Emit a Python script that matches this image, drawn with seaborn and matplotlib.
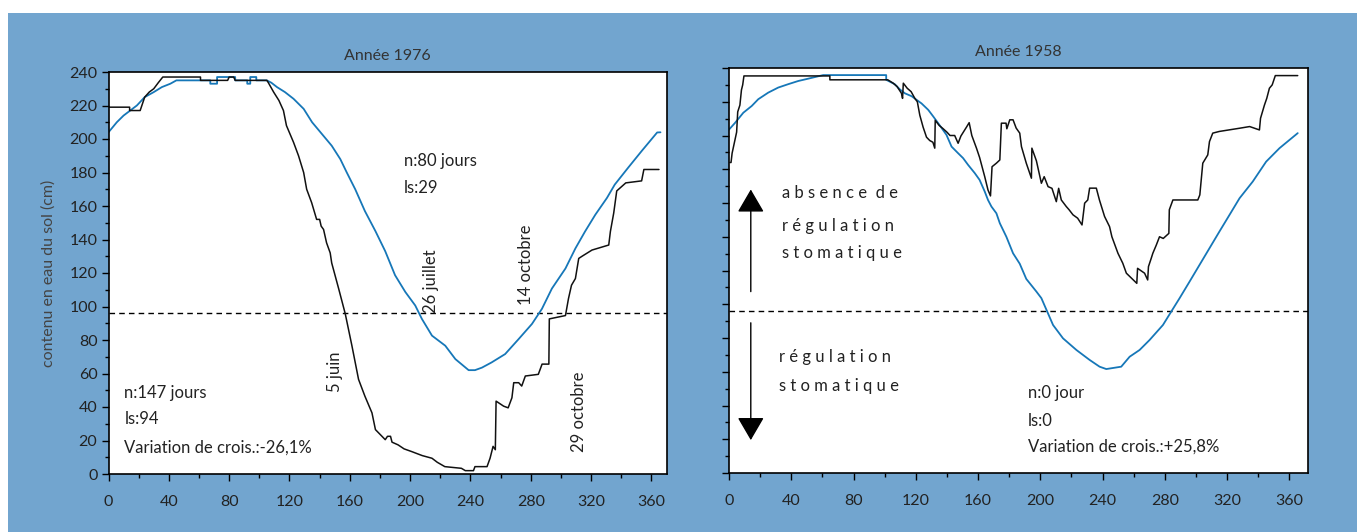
import numpy as np
import matplotlib
matplotlib.use('Agg')
import matplotlib.pyplot as plt
from matplotlib.patches import Rectangle
from matplotlib.ticker import MultipleLocator
import seaborn as sns

sns.set_theme(style='white')
plt.rcParams['font.family'] = ['Lato', 'DejaVu Sans']

# seuil de regulation stomatique (cm)
seuil = 96

# Annee 1976 - contenu en eau reel (noir)
j76_reel = [0, 14, 14, 21, 24, 27, 30, 33, 36, 61, 61, 79, 80, 83, 84, 105, 106, 109.5, 113, 116,
            118, 122.7, 126, 129.4, 131.4, 134.7, 138, 140, 141, 142.6, 144.6, 147, 148, 152.6, 157, 161.4,
            165.8, 170, 174.7, 177, 183.5, 185, 187, 188, 192, 196, 201, 208, 214.5, 218, 223, 234,
            236.6, 242, 243, 251, 253, 255, 256.5, 257, 262, 265, 267.5, 268.7, 272, 274, 276.4, 285,
            287.5, 292, 292.3, 303, 305, 307, 309.6, 311.8, 314, 320.6, 331.7, 332.8, 335, 336, 337,
            343, 353.5, 355, 365]
v76_reel = [219, 219, 217, 217, 225, 228, 230, 233.6, 237, 237, 235, 235, 237, 237, 235, 235, 233.6, 228, 223, 217,
            208, 198, 190, 180, 170, 162, 152, 152, 148, 146, 138, 132, 126, 110.7, 95.6, 76.6,
            56.5, 46.5, 36.5, 26.5, 20.5, 22.5, 22.5, 19, 17.4, 15, 13.4, 11, 9.4, 7, 4.4, 3.4,
            2, 2, 4.4, 4.4, 9.4, 16.5, 14.5, 43.5, 40.5, 39.5, 45.5, 54.5, 54.5, 52.5, 58.5, 59.5,
            65.6, 65.6, 92.6, 94.6, 104.7, 112.7, 116.7, 128.7, 130, 133.7, 136.7, 144.8, 155.8, 162.4, 169,
            173.8, 175, 181.8, 181.8]

# Annee 1976 - sans regulation (bleu)
j76_ref = [0, 5.5, 10, 14.4, 18.8, 24, 30, 35.4, 41, 45, 67.5, 67.5, 72, 72, 84, 84, 92, 92, 94, 94, 98, 98,
           105, 108, 111.7, 117, 122.7, 129.4, 135, 141.5, 148, 153.7, 158, 163.6, 170, 177, 183.5, 190,
           196.8, 203.4, 207.8, 214.5, 223.3, 230, 238.8, 243, 247.6, 254, 263, 272, 280.8, 287.4, 294,
           303, 309.6, 316, 322.8, 330.5, 335.7, 344.6, 353.6, 363.8, 366]
v76_ref = [204, 210, 214, 217, 220, 225, 228, 231, 233, 235, 235, 233, 233, 237, 237, 235, 235, 233, 233, 237, 237, 235,
           235, 233.6, 231, 228, 224, 218, 210, 203, 196, 188, 180, 170, 157, 145, 133, 118.7,
           108.7, 100.6, 92.6, 82.6, 76.6, 68.6, 62, 62, 63.5, 66.6, 71.6, 80.6, 89.6, 98.6, 110.7,
           122.7, 134.7, 144.8, 154.8, 164.8, 172.8, 182.9, 192.9, 203.9, 204]

# Annee 1958 - contenu en eau reel (noir)
j58_reel = [0.6, 1.3, 2, 4.9, 5.6, 7, 8, 8.8, 9.6, 64.8, 64.8, 102, 105.5, 108, 110.8, 111.5, 112, 114.5, 117,
            119.4, 121, 122.6, 124.7, 126.9, 129, 131, 132.2, 132.5, 135, 137.6, 140, 142, 145, 147.2, 149,
            152.6, 154.3, 156, 159, 161, 164.3, 166.4, 168, 169, 171.8, 174, 175, 178, 178.5, 180.4, 182.5,
            184.5, 186.8, 187.9, 191, 194.3, 194.6, 197.5, 200.7, 202.5, 205, 207.5, 210.3, 211.8, 213.5,
            216.7, 218.5, 221, 224, 226.8, 228.5, 230.5, 231.7, 236, 238, 241.3, 244.5, 246, 249.9, 253,
            255.3, 262, 262.5, 264.5, 267, 269, 269.5, 271.3, 272.3, 274.5, 276.6, 279, 282.6, 282.9, 285.2,
            301.2, 302.5, 304.4, 307.6, 308.7, 310.8, 315, 328, 334.5, 340.8, 341.5, 344, 345.5, 347.2,
            349, 351, 365.4]
v58_reel = [184, 184, 189.5, 202, 214, 218, 227, 230, 235.3, 235.3, 233, 233, 231, 229, 225, 222, 231, 228, 226,
            222, 220, 212, 205, 199, 197, 196, 192.5, 209, 206, 204, 202, 200, 200, 195.4, 199.7,
            205, 207.6, 200, 192.5, 187, 175.6, 167.7, 164.2, 181.5, 183.6, 185.5, 207.3, 207.3, 204, 209.3, 209.3,
            204.4, 201.4, 193.4, 183.6, 174.7, 192.5, 185, 171.7, 175.6, 169.7, 168.7, 160.8, 168.7, 161.8,
            157.9, 156, 153, 151, 147, 159.9, 161.8, 168.8, 168.8, 161.8, 152, 146, 140, 130.2, 124.3,
            118.4, 112.4, 121.3, 120, 118.4, 114.4, 122.3, 127.3, 130.2, 135, 140, 139, 142, 156, 161.8,
            161.8, 164.8, 183.6, 188.5, 196.4, 201.4, 202.4, 204.3, 205.3, 203.3, 210.2, 218, 222, 228,
            230, 235.5, 235.5]

# Annee 1958 - sans regulation (bleu)
j58_ref = [0, 3.9, 9.2, 14.6, 18.8, 25.2, 31.6, 38, 44.5, 51, 60.5, 101, 101, 106.5, 109.8, 113, 117.3, 123.7,
           128, 131.2, 135.4, 139.7, 143, 147.2, 150.4, 153.6, 157.9, 161, 164.3, 166.4, 168.6, 171.8, 174,
           178.2, 182.5, 186.8, 191, 197.5, 200.7, 204, 208.2, 214.6, 223.2, 231.7, 238.1, 242.4, 252,
           257.4, 263.8, 270.2, 278.8, 284.1, 289.5, 295.9, 302.3, 308.7, 315.1, 321.6, 328, 336.5, 345.1,
           353.7, 365.4]
v58_ref = [203.5, 207.5, 213.5, 217.5, 221.5, 225.4, 228.4, 230.4, 232.3, 233.7, 235.8, 235.8, 233, 230.4, 227.3, 225, 223.3, 219,
           215.2, 211.3, 206, 200.4, 193.4, 189.5, 186.6, 182.6, 177.7, 173.7, 166.8, 161.8, 157.9, 153.9, 148,
           140, 130.2, 124, 115, 107.5, 103.6, 96.6, 87.7, 79.8, 72.9, 67, 63, 61.6, 63,
           68.9, 72.9, 78.8, 87.7, 95.6, 103.6, 113.4, 123.3, 133.2, 143.1, 153, 162.8, 172.7, 184.5,
           192.5, 201.4]

fond = '#72a5cf'
bleu = '#1677b8'
texte = '#222222'

fig = plt.figure(figsize=(13.67, 5.32), dpi=100)
fig.patches.append(Rectangle((8 / 1367, 0), 1349 / 1367, 519 / 532, transform=fig.transFigure,
                             facecolor=fond, edgecolor='none', zorder=-10))

ax1 = fig.add_axes([108.5 / 1367, 1 - 474 / 532, 558 / 1367, 402 / 532])
ax2 = fig.add_axes([729 / 1367, 1 - 473 / 532, 579 / 1367, 405 / 532])

for ax, xmax in ((ax1, 370), (ax2, 372)):
    ax.set_facecolor('white')
    ax.set_xlim(0, xmax)
    ax.set_ylim(0, 240)
    ax.xaxis.set_major_locator(MultipleLocator(40))
    ax.xaxis.set_minor_locator(MultipleLocator(20))
    ax.yaxis.set_major_locator(MultipleLocator(20))
    ax.yaxis.set_minor_locator(MultipleLocator(10))
    ax.tick_params(which='both', direction='out', bottom=True, left=True, top=False, right=False,
                   colors='black', labelcolor=texte, labelsize=11.5, width=1)
    ax.tick_params(which='major', length=5, pad=10)
    ax.tick_params(which='minor', length=3)
    ax.tick_params(axis='y', which='major', pad=3)
    for s in ax.spines.values():
        s.set_color('black')
        s.set_linewidth(1.2)
    ax.axhline(seuil, color='black', lw=1, ls=(0, (4, 3)), zorder=1)

ax2.tick_params(axis='y', labelleft=False)

sns.lineplot(x=j76_ref, y=v76_ref, ax=ax1, color=bleu, lw=1.3, estimator=None, sort=False)
sns.lineplot(x=j76_reel, y=v76_reel, ax=ax1, color='#111111', lw=1.1, estimator=None, sort=False)
sns.lineplot(x=j58_ref, y=v58_ref, ax=ax2, color=bleu, lw=1.3, estimator=None, sort=False)
sns.lineplot(x=j58_reel, y=v58_reel, ax=ax2, color='#111111', lw=1.1, estimator=None, sort=False)

ax1.set_title('Année 1976', fontsize=11.5, color='#333333', pad=9)
ax2.set_title('Année 1958', fontsize=11.5, color='#333333', pad=9)
ax1.set_ylabel('contenu en eau du sol (cm)', fontsize=11.5, color='#444444', labelpad=10)
ax1.set_xlabel('')
ax2.set_xlabel('')
ax2.set_ylabel('')

# annotations 1976
fs = 12
ax1.text(196, 187, 'n:80 jours', fontsize=fs, color=texte, va='center')
ax1.text(196, 171, 'ls:29', fontsize=fs, color=texte, va='center')
ax1.text(10.5, 48.5, 'n:147 jours', fontsize=fs, color=texte, va='center')
ax1.text(10.5, 33, 'ls:94', fontsize=fs, color=texte, va='center')
ax1.text(10.5, 15.5, 'Variation de crois.:-26,1%', fontsize=fs, color=texte, va='center')
ax1.text(214, 96, '26 juillet', rotation=90, fontsize=fs, color=texte, ha='center', va='bottom')
ax1.text(277, 101, '14 octobre', rotation=90, fontsize=fs, color=texte, ha='center', va='bottom')
ax1.text(150.5, 49, '5 juin', rotation=90, fontsize=fs, color=texte, ha='center', va='bottom')
ax1.text(312, 13, '29 octobre', rotation=90, fontsize=fs, color=texte, ha='center', va='bottom')

# annotations 1958
ax2.text(192, 47.5, 'n:0 jour', fontsize=fs, color=texte, va='center')
ax2.text(192, 31, 'ls:0', fontsize=fs, color=texte, va='center')
ax2.text(192, 15.6, 'Variation de crois.:+25,8%', fontsize=fs, color=texte, va='center')
ax2.text(34, 166, 'a b s e n c e  d e', fontsize=fs, color=texte, va='center')
ax2.text(34, 146.5, 'r é g u l a t i o n', fontsize=fs, color=texte, va='center')
ax2.text(34, 130.5, 's t o m a t i q u e', fontsize=fs, color=texte, va='center')
ax2.text(32, 69, 'r é g u l a t i o n', fontsize=fs, color=texte, va='center')
ax2.text(32, 51.5, 's t o m a t i q u e', fontsize=fs, color=texte, va='center')

fleche = dict(arrowstyle='-|>,head_length=1.2,head_width=0.7', color='black', lw=1, shrinkA=0, shrinkB=0)
ax2.annotate('', xy=(14, 168), xytext=(14, 107.5), arrowprops=fleche)
ax2.annotate('', xy=(14, 19.5), xytext=(14, 89), arrowprops=fleche)

fig.savefig('out.png', dpi=100, facecolor='white')
